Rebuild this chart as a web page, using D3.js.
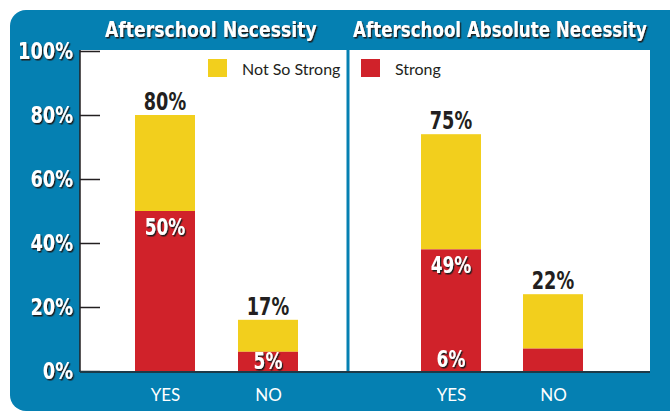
<!DOCTYPE html>
<html>
<head>
<meta charset="utf-8">
<script src="https://cdn.jsdelivr.net/npm/d3@7/dist/d3.min.js"></script>
<style>
  body { margin: 0; background: #fff; }
  svg { display: block; }
</style>
</head>
<body>
<svg id="svg"></svg>
<script>
// chart values
var panelTitles = ["Afterschool Necessity", "Afterschool Absolute Necessity"];
var categories = ["YES", "NO"];
var seriesNames = ["Not So Strong", "Strong"];
var yTicks = [0, 20, 40, 60, 80, 100];

var necessityTotal = [80, 16];
var necessityStrong = [50, 6];
var absoluteTotal = [74, 24];
var absoluteStrong = [38, 7];

var necessityTopLabels = ["80%", "17%"];
var necessityInnerLabels = ["50%", "5%"];
var absoluteTopLabels = ["75%", "22%"];
var absoluteInnerLabels = ["49%", ""];
var absoluteBaseLabels = ["6%", ""];

var width = 670, height = 413;
var blue = "#0580b2", yellow = "#f2cf1d", red = "#d0222a", ink = "#231f20";
var heavy = "'Liberation Sans Narrow', 'DejaVu Sans Condensed', sans-serif";
var soft = "Lato, 'Noto Sans', sans-serif";

var svg = d3.select("#svg").attr("width", width).attr("height", height);

var defs = svg.append("defs");
defs.append("filter").attr("id", "shadow")
    .attr("x", "-10%").attr("y", "-10%").attr("width", "130%").attr("height", "140%")
  .append("feDropShadow")
    .attr("dx", 1.5).attr("dy", 1.5).attr("stdDeviation", 0.3)
    .attr("flood-color", "#1a1a1a").attr("flood-opacity", 1);

// squeeze text horizontally around its anchor x (the narrow face is missing)
function squeeze(sel, f) {
    sel.each(function() {
        var t = d3.select(this);
        var x = +t.attr("x") || 0;
        t.attr("transform", "translate(" + x + ",0) scale(" + f + ",1) translate(" + (-x) + ",0)");
    });
}

// blue frame
svg.append("rect")
    .attr("x", 10).attr("y", 10).attr("width", 720).attr("height", 401)
    .attr("rx", 16).attr("fill", blue);

var plot = {x1: 80, x2: 650, y1: 50, y2: 372};

svg.append("rect")
    .attr("x", plot.x1).attr("y", plot.y1)
    .attr("width", plot.x2 - plot.x1).attr("height", plot.y2 - plot.y1)
    .attr("fill", "#fff");

var y = d3.scaleLinear().domain([0, 100]).range([371, 51]);

// panel divider
svg.append("line")
    .attr("x1", 348).attr("x2", 348).attr("y1", plot.y1).attr("y2", plot.y2)
    .attr("stroke", blue).attr("stroke-width", 3);

// y axis
var yAxis = svg.append("g")
    .attr("transform", "translate(" + plot.x1 + ",0)")
    .call(d3.axisLeft(y).tickValues(yTicks)
          .tickFormat(function(d) { return d + "%"; })
          .tickSizeInner(-20).tickSizeOuter(0).tickPadding(7));
yAxis.select(".domain").attr("stroke", ink).attr("stroke-width", 1.5)
    .attr("d", "M0," + plot.y1 + "V" + plot.y2);
yAxis.selectAll(".tick line").attr("stroke", ink).attr("stroke-width", 1.5);
yAxis.selectAll(".tick text")
    .attr("fill", "#fff")
    .attr("font-family", heavy).attr("font-weight", "bold").attr("font-size", 23)
    .attr("filter", "url(#shadow)")
    .call(squeeze, 0.86);

// bottom axis line
svg.append("line")
    .attr("x1", plot.x1).attr("x2", plot.x2).attr("y1", plot.y2).attr("y2", plot.y2)
    .attr("stroke", "#1d3a48").attr("stroke-width", 2);

var panels = [
    {title: panelTitles[0], range: [165, 268], titleX: [105, 317],
     total: necessityTotal, strong: necessityStrong,
     top: necessityTopLabels, inner: necessityInnerLabels, base: ["", ""]},
    {title: panelTitles[1], range: [451, 553], titleX: [353, 647],
     total: absoluteTotal, strong: absoluteStrong,
     top: absoluteTopLabels, inner: absoluteInnerLabels, base: absoluteBaseLabels}
];

var barW = 60;

panels.forEach(function(p) {
    var x = d3.scalePoint().domain(categories).range(p.range);

    var title = svg.append("text")
        .attr("x", p.titleX[0]).attr("y", 37)
        .attr("fill", "#fff").attr("filter", "url(#shadow)")
        .attr("font-family", heavy).attr("font-weight", "bold").attr("font-size", 22)
        .text(p.title);
    var tw = title.node().getComputedTextLength();
    title.call(squeeze, (p.titleX[1] - p.titleX[0]) / tw);

    var rows = categories.map(function(c, i) {
        return {cat: c, total: p.total[i], strong: p.strong[i],
                top: p.top[i], inner: p.inner[i], base: p.base[i]};
    });

    var g = svg.append("g");

    g.selectAll("rect.ns").data(rows).enter().append("rect")
        .attr("x", function(d) { return x(d.cat) - barW / 2; })
        .attr("y", function(d) { return y(d.total); })
        .attr("width", barW)
        .attr("height", function(d) { return y(d.strong) - y(d.total); })
        .attr("fill", yellow);

    g.selectAll("rect.st").data(rows).enter().append("rect")
        .attr("x", function(d) { return x(d.cat) - barW / 2; })
        .attr("y", function(d) { return y(d.strong); })
        .attr("width", barW)
        .attr("height", function(d) { return y(0) - y(d.strong); })
        .attr("fill", red);

    g.selectAll("text.top").data(rows).enter().append("text")
        .attr("x", function(d) { return x(d.cat); })
        .attr("y", function(d) { return y(d.total) - 5; })
        .attr("text-anchor", "middle")
        .attr("fill", ink)
        .attr("font-family", heavy).attr("font-weight", "bold").attr("font-size", 24)
        .text(function(d) { return d.top; })
        .call(squeeze, 0.82);

    g.selectAll("text.inner").data(rows).enter().append("text")
        .attr("x", function(d) { return x(d.cat); })
        .attr("y", function(d) { return Math.min(y(d.strong) + 24, y(0) - 2); })
        .attr("text-anchor", "middle")
        .attr("fill", "#fff").attr("filter", "url(#shadow)")
        .attr("font-family", heavy).attr("font-weight", "bold").attr("font-size", 23)
        .text(function(d) { return d.inner; })
        .call(squeeze, 0.82);

    g.selectAll("text.base").data(rows).enter().append("text")
        .attr("x", function(d) { return x(d.cat); })
        .attr("y", y(0) - 4)
        .attr("text-anchor", "middle")
        .attr("fill", "#fff").attr("filter", "url(#shadow)")
        .attr("font-family", heavy).attr("font-weight", "bold").attr("font-size", 23)
        .text(function(d) { return d.base; })
        .call(squeeze, 0.82);

    var xAxis = svg.append("g")
        .attr("transform", "translate(0," + plot.y2 + ")")
        .call(d3.axisBottom(x).tickSize(0).tickPadding(17));
    xAxis.select(".domain").remove();
    xAxis.selectAll(".tick text")
        .attr("fill", "#fff")
        .attr("font-family", soft).attr("font-size", 17);
});

// legend
var legend = [
    {name: seriesNames[0], color: yellow, x: 208},
    {name: seriesNames[1], color: red, x: 361}
];
var lg = svg.selectAll("g.legend").data(legend).enter().append("g")
    .attr("transform", function(d) { return "translate(" + d.x + ",59)"; });
lg.append("rect").attr("width", 19).attr("height", 18)
    .attr("fill", function(d) { return d.color; });
lg.append("text").attr("x", 34).attr("y", 16)
    .attr("fill", ink).attr("font-family", soft).attr("font-size", 16)
    .text(function(d) { return d.name; });
</script>
</body>
</html>
